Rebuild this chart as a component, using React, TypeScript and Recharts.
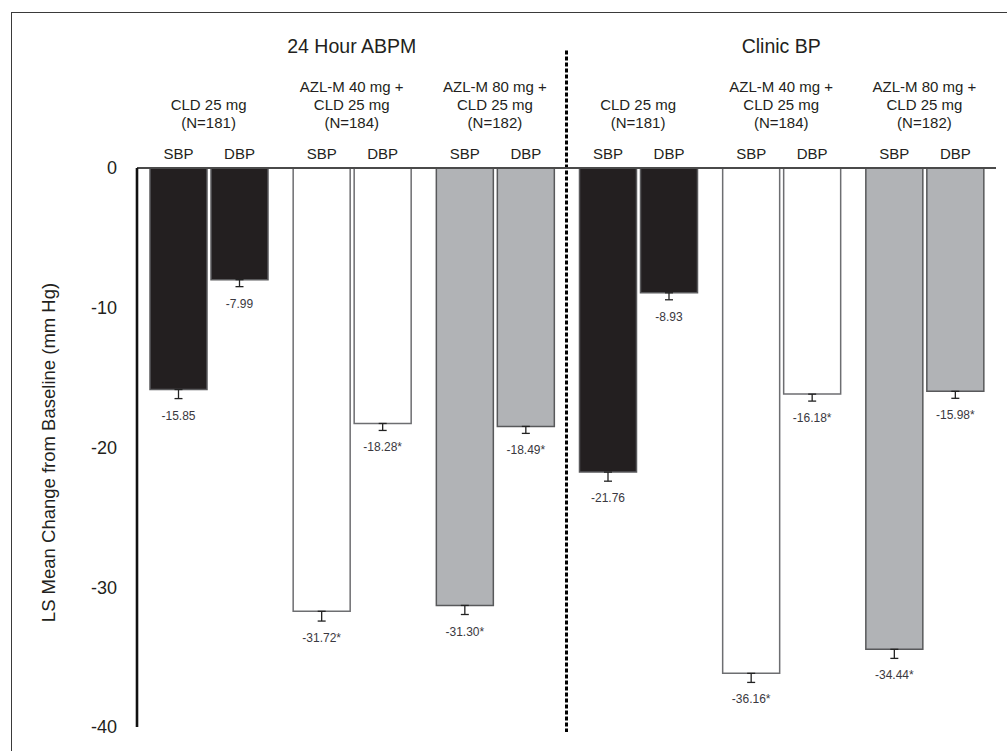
import {
  Bar,
  BarChart,
  Cell,
  ErrorBar,
  LabelList,
  ReferenceLine,
  XAxis,
  YAxis,
} from "recharts";

const FONT = "'Liberation Sans', Arial, Helvetica, sans-serif";
const INK = "#231f20";

const groups = ["abpm-cld", "abpm-azl40", "abpm-azl80", "clinic-cld", "clinic-azl40", "clinic-azl80"];
const sections = ["24 Hour ABPM", "Clinic BP"];
const groupHeaders = [
  ["CLD 25 mg", "(N=181)"],
  ["AZL-M 40 mg +", "CLD 25 mg", "(N=184)"],
  ["AZL-M 80 mg +", "CLD 25 mg", "(N=182)"],
  ["CLD 25 mg", "(N=181)"],
  ["AZL-M 40 mg +", "CLD 25 mg", "(N=184)"],
  ["AZL-M 80 mg +", "CLD 25 mg", "(N=182)"],
];
const measures = ["SBP", "DBP"];

const sbp = [-15.85, -31.72, -31.3, -21.76, -36.16, -34.44];
const dbp = [-7.99, -18.28, -18.49, -8.93, -16.18, -15.98];
const sbpErr = [0.65, 0.7, 0.65, 0.65, 0.65, 0.65];
const dbpErr = [0.5, 0.5, 0.5, 0.5, 0.5, 0.5];
const significant = [false, true, true, false, true, true];

const yTicks = [0, -10, -20, -30, -40];

const groupFill = ["#231f20", "#ffffff", "#b1b3b6", "#231f20", "#ffffff", "#b1b3b6"];
const groupStroke = ["#5a5a5c", "#6d6e71", "#58595b", "#5a5a5c", "#6d6e71", "#58595b"];

const data = groups.map((g, i) => ({
  group: g,
  sbp: sbp[i],
  dbp: dbp[i],
  sbpErr: [sbpErr[i], 0],
  dbpErr: [dbpErr[i], 0],
}));

function GroupTick(props: any) {
  const { x, y, payload } = props;
  const i = groups.indexOf(payload.value);
  const lines = groupHeaders[i] || [];
  return (
    <g>
      {lines.map((t, k) => (
        <text
          key={k}
          x={x}
          y={y - 40.5 - (lines.length - 1 - k) * 17.8}
          textAnchor="middle"
          fontSize={15}
          fontFamily={FONT}
          fill={INK}
        >
          {t}
        </text>
      ))}
      {i % 3 === 1 && (
        <text x={x} y={y - 115} textAnchor="middle" fontSize={19.5} fontFamily={FONT} fill={INK}>
          {sections[Math.floor(i / 3)]}
        </text>
      )}
    </g>
  );
}

// SBP/DBP above the zero line, value (with * when significant) under the whisker
function barLabel(measure: number, values: number[], errs: number[]) {
  return (props: any) => {
    const { x, y, width, height, index } = props;
    const v = values[index];
    const top = Math.min(y, y + height);
    const bottom = Math.max(y, y + height);
    const pxPerUnit = Math.abs(height) / Math.abs(v);
    const cx = x + width / 2;
    return (
      <g>
        <text x={cx} y={top - 9} textAnchor="middle" fontSize={15} fontFamily={FONT} fill={INK}>
          {measures[measure]}
        </text>
        <text
          x={cx}
          y={bottom + errs[index] * pxPerUnit + 21}
          textAnchor="middle"
          fontSize={12}
          fontFamily={FONT}
          fill="#3a3840"
        >
          {v.toFixed(2) + (significant[index] ? "*" : "")}
        </text>
      </g>
    );
  };
}

function YLabel(props: any) {
  const { viewBox } = props;
  const cx = viewBox.x + 18;
  const cy = viewBox.y + viewBox.height / 2 + 5;
  return (
    <text
      x={cx}
      y={cy}
      transform={`rotate(-90 ${cx} ${cy})`}
      textAnchor="middle"
      fontSize={18.5}
      fontFamily={FONT}
      fill={INK}
    >
      LS Mean Change from Baseline (mm Hg)
    </text>
  );
}

export default function App() {
  return (
    <div
      style={{
        position: "fixed",
        left: 0,
        top: 0,
        width: 1007,
        height: 751,
        overflow: "hidden",
        background: "#fff",
      }}
    >
      <div
        style={{
          position: "absolute",
          left: 11,
          top: 12,
          width: 1100,
          height: 900,
          borderLeft: "1.5px solid #3a3a3a",
          borderTop: "1.5px solid #3a3a3a",
        }}
      />
      <div style={{ position: "absolute", left: 0, top: 0 }}>
        <BarChart
          width={1007}
          height={751}
          data={data}
          margin={{ top: 8, right: 11, bottom: 24, left: 37 }}
          barCategoryGap={13}
          barGap={4}
        >
          <XAxis
            dataKey="group"
            type="category"
            orientation="top"
            height={160}
            tickLine={false}
            tickSize={0}
            tickMargin={0}
            axisLine={{ stroke: "#4a4a4a", strokeWidth: 2 }}
            tick={<GroupTick />}
            interval={0}
          />
          <YAxis
            type="number"
            domain={[-40, 0]}
            ticks={yTicks}
            width={100}
            tickLine={false}
            tickSize={0}
            tickMargin={20}
            axisLine={{ stroke: "#111", strokeWidth: 2.6 }}
            tick={{ fontSize: 18, fontFamily: FONT, fill: INK }}
            label={<YLabel />}
          />
          <ReferenceLine
            segment={[
              { x: groups[3], y: 8.4 },
              { x: groups[3], y: -40.35 },
            ]}
            position="start"
            ifOverflow="visible"
            stroke="#000"
            strokeWidth={3}
            strokeDasharray="4 2"
          />
          <Bar dataKey="sbp" isAnimationActive={false} strokeWidth={1.5}>
            {data.map((_, i) => (
              <Cell key={i} fill={groupFill[i]} stroke={groupStroke[i]} />
            ))}
            <ErrorBar dataKey="sbpErr" width={4} stroke="#222" strokeWidth={1.3} isAnimationActive={false} />
            <LabelList dataKey="sbp" content={barLabel(0, sbp, sbpErr)} />
          </Bar>
          <Bar dataKey="dbp" isAnimationActive={false} strokeWidth={1.5}>
            {data.map((_, i) => (
              <Cell key={i} fill={groupFill[i]} stroke={groupStroke[i]} />
            ))}
            <ErrorBar dataKey="dbpErr" width={4} stroke="#222" strokeWidth={1.3} isAnimationActive={false} />
            <LabelList dataKey="dbp" content={barLabel(1, dbp, dbpErr)} />
          </Bar>
        </BarChart>
      </div>
    </div>
  );
}
